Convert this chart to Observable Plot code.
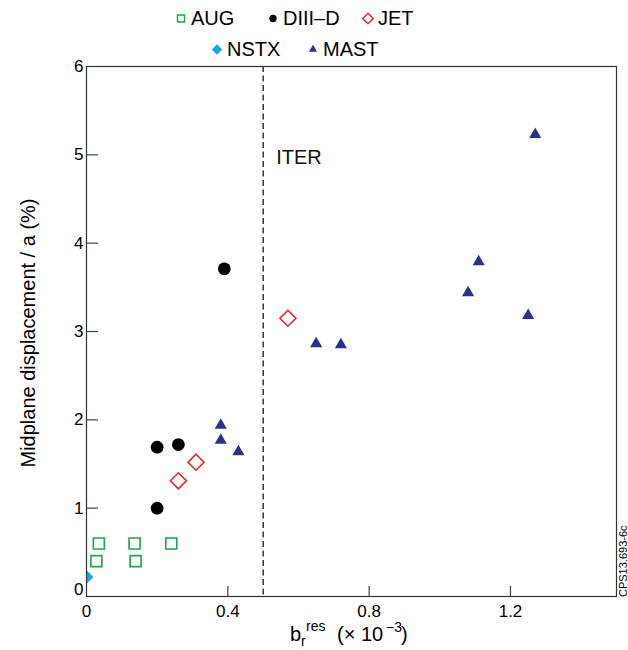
<!DOCTYPE html>
<html>
<head>
<meta charset="utf-8">
<script src="https://cdn.jsdelivr.net/npm/d3@7"></script>
<script src="https://cdn.jsdelivr.net/npm/@observablehq/plot@0.6"></script>
<style>
  html, body { margin: 0; padding: 0; background: #fff; }
  #wrap { position: relative; width: 628px; height: 650px; font-family: Arial, "Liberation Sans", sans-serif; }
  #legend { position: absolute; left: 0; top: 0; width: 628px; height: 66px; }
  .item { position: absolute; display: flex; align-items: center; font-size: 20px; color: #000; white-space: nowrap; transform: translateY(-50%); }
  .item svg { margin-right: 4px; overflow: visible; }
</style>
</head>
<body>
<div id="wrap"><div id="legend"></div></div>
<script>
// ---- data ----
const augX   = [0.035, 0.028, 0.136, 0.139, 0.24];
const augY   = [0.60, 0.40, 0.60, 0.40, 0.60];
const diiidX = [0.20, 0.20, 0.26, 0.39];
const diiidY = [1.00, 1.69, 1.72, 3.71];
const jetX   = [0.26, 0.31, 0.57];
const jetY   = [1.31, 1.52, 3.15];
const nstxX  = [0.0];
const nstxY  = [0.22];
const mastX  = [0.38, 0.38, 0.43, 0.65, 0.72, 1.08, 1.11, 1.25, 1.27];
const mastY  = [1.94, 1.77, 1.64, 2.86, 2.85, 3.44, 3.79, 3.18, 5.23];
const xTicks = [0, 0.4, 0.8, 1.2];
const xTickLabels = ["0", "0.4", "0.8", "1.2"];
const yTicks = [0, 1, 2, 3, 4, 5, 6];
const iterLimit = [0.5];
const iterLabel = ["ITER"];
const iterLabelY = [4.97];

const toRows = (xs, ys) => xs.map((x, i) => ({x, y: ys[i]}));
const aug = toRows(augX, augY), diiid = toRows(diiidX, diiidY), jet = toRows(jetX, jetY),
      nstx = toRows(nstxX, nstxY), mast = toRows(mastX, mastY);

const font = 'Arial, "Liberation Sans", sans-serif';
const plotW = 628 - 86 - 12, plotH = 650 - 66 - 54;

const chart = Plot.plot({
  width: 628, height: 650,
  marginTop: 66, marginLeft: 86, marginRight: 12, marginBottom: 54,
  style: {fontFamily: font, fontSize: "17px", color: "#000", background: "transparent", overflow: "visible"},
  x: {domain: [0, 1.5], ticks: xTicks, tickFormat: d => xTickLabels[xTicks.indexOf(d)], tickSize: 0, tickPadding: 8, label: null},
  y: {domain: [0, 6], ticks: yTicks, tickFormat: d => d === 0 ? "" : String(d), tickSize: 0, tickPadding: 3, label: null},
  marks: [
    Plot.text(yTicks.slice(0, 1), {frameAnchor: "left", y: d => d, text: d => String(d), dx: -3, dy: -7, textAnchor: "end", fontSize: 17, fill: "#000"}),
    Plot.ruleX(iterLimit, {stroke: "#000", strokeWidth: 1.2, strokeDasharray: "6,3.5"}),
    Plot.text(iterLabel, {x: () => iterLimit[0], y: (d, i) => iterLabelY[i], text: d => d, dx: 13, textAnchor: "start", fontSize: 20, fill: "#111"}),
    Plot.tickX(xTicks.slice(1), {x: d => d, insetTop: plotH - 10, stroke: "#444", strokeWidth: 1.2}),
    Plot.tickY(yTicks.slice(1, -1), {y: d => d, insetRight: plotW - 12, stroke: "#444", strokeWidth: 1.2}),
    Plot.dot(aug,   {x: "x", y: "y", symbol: "square",   r: 6.2, stroke: "#1aa64a", strokeWidth: 1.6, fill: "none", clip: true}),
    Plot.dot(diiid, {x: "x", y: "y", symbol: "circle",   r: 6.4, fill: "#000", stroke: "none", clip: true}),
    Plot.dot(jet,   {x: "x", y: "y", symbol: "diamond2", r: 7.2, stroke: "#e8232b", strokeWidth: 1.6, fill: "none", clip: true}),
    Plot.dot(nstx,  {x: "x", y: "y", symbol: "diamond2", r: 6.2, fill: "#16a6e6", stroke: "none", clip: true}),
    Plot.dot(mast,  {x: "x", y: "y", symbol: "triangle", r: 4.5, fill: "#2b3090", stroke: "none", clip: true}),
    Plot.frame({stroke: "#333", strokeWidth: 1.2})
  ]
});
document.getElementById("wrap").appendChild(chart);

// axis titles
const svg = d3.select(chart);
svg.append("text")
  .attr("transform", "translate(35,333) rotate(-90)")
  .attr("text-anchor", "middle")
  .attr("font-family", font).attr("font-size", 20).attr("fill", "#000")
  .text("Midplane displacement / a (%)");
const xlab = svg.append("text").attr("text-anchor", "start").attr("font-family", font).attr("font-size", 20).attr("fill", "#000");
xlab.append("tspan").attr("x", 290).attr("y", 641).text("b");
xlab.append("tspan").attr("x", 301).attr("y", 646).attr("font-size", 14).text("r");
xlab.append("tspan").attr("x", 306).attr("y", 631).attr("font-size", 14).text("res");
xlab.append("tspan").attr("x", 337).attr("y", 641).text("(\u00d7 10");
xlab.append("tspan").attr("x", 386).attr("y", 632).attr("font-size", 14).text("\u22123");
xlab.append("tspan").attr("x", 401).attr("y", 641).text(")");
svg.append("text")
  .attr("transform", "translate(627,597) rotate(-90)")
  .attr("text-anchor", "start")
  .attr("font-family", font).attr("font-size", 11).attr("fill", "#000")
  .text("CPS13.693-6c");

// legend
const legendItems = [
  {label: "AUG",    sym: d3.symbolSquare,   size: 50,  fill: "none",    stroke: "#1aa64a", left: 175, top: 18},
  {label: "DIII\u2013D", sym: d3.symbolCircle, size: 42, fill: "#000", stroke: "none", left: 267, top: 18},
  {label: "JET",    sym: d3.symbolDiamond2, size: 70,  fill: "none",    stroke: "#e8232b", left: 362, top: 18},
  {label: "NSTX",   sym: d3.symbolDiamond2, size: 70,  fill: "#16a6e6", stroke: "none",    left: 211, top: 49},
  {label: "MAST",   sym: d3.symbolTriangle, size: 28,  fill: "#2b3090", stroke: "none",    left: 307, top: 49}
];
const legend = d3.select("#legend");
for (const it of legendItems) {
  const div = legend.append("div").attr("class", "item").style("left", it.left + "px").style("top", it.top + "px");
  const s = div.append("svg").attr("width", 12).attr("height", 12).attr("viewBox", "-6 -6 12 12");
  s.append("path").attr("d", d3.symbol(it.sym, it.size)()).attr("fill", it.fill).attr("stroke", it.stroke).attr("stroke-width", 1.4);
  div.append("span").text(it.label);
}
</script>
</body>
</html>
